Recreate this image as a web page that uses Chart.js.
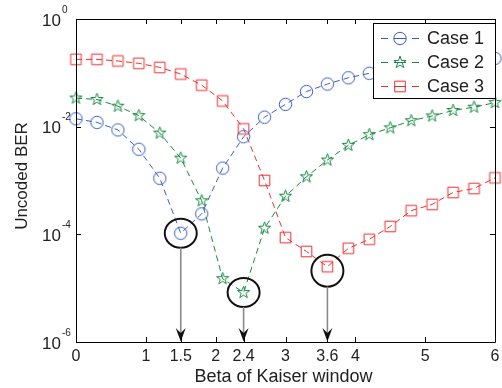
<!DOCTYPE html>
<html>
<head>
<meta charset="utf-8">
<script src="https://cdn.jsdelivr.net/npm/chart.js@4.4.0/dist/chart.umd.min.js"></script>
<style>
  html, body { margin: 0; padding: 0; background: #fff; }
</style>
</head>
<body>
<canvas id="myChart" width="502" height="388"></canvas>
<script>
// values
const beta = [0, 0.3, 0.6, 0.9, 1.2, 1.5, 1.8, 2.1, 2.4, 2.7, 3.0, 3.3, 3.6, 3.9, 4.2, 4.5, 4.8, 5.1, 5.4, 5.7, 6.0];
const case1 = [1.4e-2, 1.2e-2, 8.7e-3, 3.8e-3, 1.1e-3, 1.05e-4, 2.4e-4, 1.7e-3, 6.5e-3, 1.5e-2, 2.6e-2,
               4.5e-2, 6.2e-2, 8.1e-2, 9.8e-2, 1.12e-1, 1.26e-1, 1.41e-1, 1.55e-1, 1.7e-1, 1.86e-1];
const case2 = [3.4e-2, 3.2e-2, 2.4e-2, 1.6e-2, 7.6e-3, 2.6e-3, 4.2e-4, 1.5e-5, 8.3e-6, 1.3e-4, 5.1e-4,
               1.17e-3, 2.4e-3, 4.5e-3, 7.1e-3, 9.5e-3, 1.29e-2, 1.58e-2, 2.0e-2, 2.3e-2, 2.8e-2];
const case3 = [1.78e-1, 1.78e-1, 1.66e-1, 1.5e-1, 1.26e-1, 9.5e-2, 5.9e-2, 3.0e-2, 9.1e-3, 1.0e-3, 8.7e-5,
               4.8e-5, 2.5e-5, 5.5e-5, 8.1e-5, 1.4e-4, 2.75e-4, 3.6e-4, 6.0e-4, 7.1e-4, 1.12e-3];
const seriesNames = ["Case 1", "Case 2", "Case 3"];
const xTicks = [0, 1, 1.5, 2, 2.4, 3, 3.6, 4, 5, 6];
const yExps = [0, -2, -4, -6];
// beta values where each case has its minimum (circled + arrow)
const bestBeta = [1.5, 2.4, 3.6];

const colors = ['#3a5cc8', '#178a40', '#ee2f2f'];
const shapes = ['circle', 'pentagram', 'square'];
const FONT = "'Liberation Sans', Arial, Helvetica, sans-serif";

function drawMarker(c, shape, x, y, color) {
  c.save();
  c.strokeStyle = color;
  c.lineWidth = 1;
  c.beginPath();
  if (shape == 'circle') {
    c.arc(x, y, 6.2, 0, Math.PI * 2);
  } else if (shape == 'square') {
    c.rect(x - 5.3, y - 5.3, 10.6, 10.6);
  } else {
    const ro = 6.4, ri = ro * 0.4;
    for (let k = 0; k < 10; k++) {
      const r = k % 2 ? ri : ro;
      const a = -Math.PI / 2 + k * Math.PI / 5;
      const px = x + r * Math.cos(a), py = y + r * Math.sin(a);
      if (k == 0) c.moveTo(px, py); else c.lineTo(px, py);
    }
    c.closePath();
  }
  c.stroke();
  c.restore();
}

function markerImage(shape, color) {
  const cv = document.createElement('canvas');
  cv.width = 17; cv.height = 17;
  drawMarker(cv.getContext('2d'), shape, 8.5, 8.5, color);
  return cv;
}

const dataSets = [case1, case2, case3].map((vals, i) => ({
  label: seriesNames[i],
  data: beta.map((b, j) => ({ x: b, y: vals[j] })),
  borderColor: colors[i],
  borderWidth: 1,
  borderDash: [6, 4],
  pointStyle: markerImage(shapes[i], colors[i]),
  pointRadius: 6,
  tension: 0,
  clip: false,
  fill: false
}));

const decorations = {
  id: 'decorations',
  afterDatasetsDraw(chart) {
    const c = chart.ctx;
    const a = chart.chartArea;
    const sx = chart.scales.x, sy = chart.scales.y;
    c.save();

    // ellipses around the minima and arrows down to the axis
    const series = [case1, case2, case3];
    bestBeta.forEach((b, i) => {
      const j = beta.indexOf(b);
      const px = sx.getPixelForValue(b);
      const py = sy.getPixelForValue(series[i][j]) + (i == 2 ? 4 : 0);
      const rx = 16, ry = i == 2 ? 16 : 14.5;
      c.strokeStyle = '#111';
      c.lineWidth = 2;
      c.beginPath();
      c.ellipse(px, py, rx, ry, 0, 0, Math.PI * 2);
      c.stroke();
      c.strokeStyle = '#8a8a8a';
      c.lineWidth = 1.6;
      c.beginPath();
      c.moveTo(px, py + ry);
      c.lineTo(px, a.bottom - 8);
      c.stroke();
      c.fillStyle = '#111';
      c.beginPath();
      c.moveTo(px, a.bottom - 0.5);
      c.lineTo(px - 5, a.bottom - 14);
      c.lineTo(px, a.bottom - 9);
      c.lineTo(px + 5, a.bottom - 14);
      c.closePath();
      c.fill();
    });

    // frame and inward ticks
    c.strokeStyle = '#000';
    c.lineWidth = 1;
    c.beginPath();
    c.rect(Math.round(a.left) + 0.5, Math.round(a.top) + 0.5, Math.round(a.right - a.left), Math.round(a.bottom - a.top));
    xTicks.forEach(v => {
      const x = Math.round(sx.getPixelForValue(v)) + 0.5;
      c.moveTo(x, a.bottom); c.lineTo(x, a.bottom - 5);
      c.moveTo(x, a.top); c.lineTo(x, a.top + 5);
    });
    yExps.forEach(e => {
      const y = Math.round(sy.getPixelForValue(Math.pow(10, e))) + 0.5;
      c.moveTo(a.left, y); c.lineTo(a.left + 5, y);
      c.moveTo(a.right, y); c.lineTo(a.right - 5, y);
    });
    c.stroke();

    // tick labels
    c.fillStyle = '#222';
    c.textBaseline = 'middle';
    c.textAlign = 'center';
    c.font = '16px ' + FONT;
    xTicks.forEach(v => {
      c.fillText(String(v), sx.getPixelForValue(v), a.bottom + 15);
    });
    yExps.forEach(e => {
      const y = sy.getPixelForValue(Math.pow(10, e));
      c.textAlign = 'right';
      c.font = '17px ' + FONT;
      c.fillText('10', a.left - 15, y + 2);
      c.textAlign = 'left';
      c.font = '10px ' + FONT;
      c.fillText(String(e).replace('-', '-'), a.left - 14, y - 9);
    });

    // axis titles
    c.textAlign = 'center';
    c.font = '18px ' + FONT;
    c.fillText('Beta of Kaiser window', (a.left + a.right) / 2 - 2, a.bottom + 35);
    c.save();
    c.translate(22, 176);
    c.rotate(-Math.PI / 2);
    c.font = '17px ' + FONT;
    c.fillText('Uncoded BER', 0, 0);
    c.restore();

    // legend box
    const lw = 122, lh = 75;
    const lx = a.right - lw, ly = a.top + 4;
    c.fillStyle = '#fff';
    c.fillRect(lx, ly, lw, lh);
    c.strokeStyle = '#000';
    c.lineWidth = 1;
    c.strokeRect(Math.round(lx) + 0.5, Math.round(ly) + 0.5, lw, lh);
    seriesNames.forEach((name, i) => {
      const y = ly + 15.5 + i * 24;
      const mx = lx + 27;
      c.strokeStyle = colors[i];
      c.lineWidth = 1;
      c.beginPath();
      c.moveTo(lx + 8, y); c.lineTo(lx + 15, y);
      c.moveTo(mx + 12, y); c.lineTo(mx + 19, y);
      c.moveTo(mx - 6, y); c.lineTo(mx + 6, y);
      c.stroke();
      drawMarker(c, shapes[i], mx, y, colors[i]);
      c.fillStyle = '#222';
      c.textAlign = 'left';
      c.font = '18px ' + FONT;
      c.fillText(name, lx + 54, y + 1);
    });
    c.restore();
  }
};

var ctx = document.getElementById('myChart');
var chart = new Chart(ctx, {
  type: 'line',
  data: { datasets: dataSets },
  options: {
    responsive: false,
    animation: false,
    layout: { padding: { top: 19, right: 7, left: 0, bottom: 0 } },
    plugins: { legend: { display: false }, tooltip: { enabled: false } },
    scales: {
      x: {
        type: 'linear',
        min: 0,
        max: 6,
        grid: { display: false },
        border: { display: false },
        ticks: { display: false },
        afterFit: s => { s.height = 46; }
      },
      y: {
        type: 'logarithmic',
        min: 1e-6,
        max: 1,
        grid: { display: false },
        border: { display: false },
        ticks: { display: false },
        afterFit: s => { s.width = 76; }
      }
    }
  },
  plugins: [decorations]
});
</script>
</body>
</html>
